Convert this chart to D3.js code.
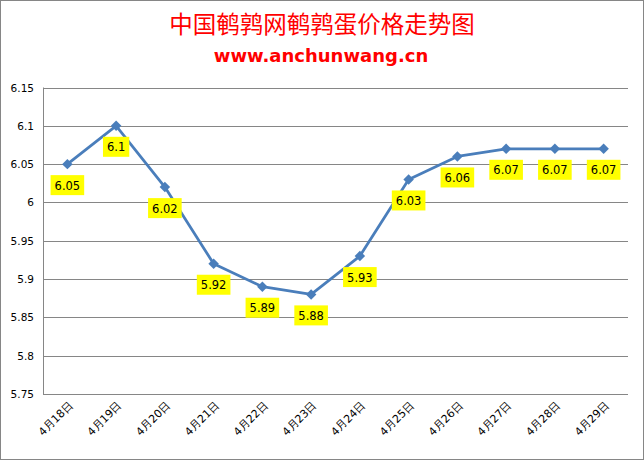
<!DOCTYPE html>
<html>
<head>
<meta charset="utf-8">
<script src="https://cdn.jsdelivr.net/npm/d3@7"></script>
<style>
  body { margin: 0; background: #fff; }
  text { font-family: "DejaVu Sans", sans-serif; }
</style>
</head>
<body>
<script>
const dates = ["4月18日", "4月19日", "4月20日", "4月21日", "4月22日", "4月23日",
  "4月24日", "4月25日", "4月26日", "4月27日", "4月28日", "4月29日"];
const prices = [6.05, 6.1, 6.02, 5.92, 5.89, 5.88, 5.93, 6.03, 6.06, 6.07, 6.07, 6.07];
const yTicks = [5.75, 5.8, 5.85, 5.9, 5.95, 6, 6.05, 6.1, 6.15];

const width = 644;
const height = 460;
const plot = { left: 43, right: 628, top: 87.5, bottom: 394 };

const svg = d3.select("body").append("svg")
  .attr("width", width)
  .attr("height", height);

// outer frame
svg.append("rect")
  .attr("x", 0.5).attr("y", 0.5)
  .attr("width", width - 1).attr("height", height - 1)
  .attr("fill", "#fff")
  .attr("stroke", "#868686");

svg.append("text")
  .attr("x", 322).attr("y", 33)
  .attr("text-anchor", "middle")
  .attr("fill", "#ff0000")
  .style("font-family", "'Noto Sans CJK SC', sans-serif")
  .style("font-size", "23.5px")
  .text("中国鹌鹑网鹌鹑蛋价格走势图");

svg.append("text")
  .attr("x", 321).attr("y", 62)
  .attr("text-anchor", "middle")
  .attr("fill", "#ff0000")
  .style("font-weight", "bold")
  .style("font-size", "18px")
  .text("www.anchunwang.cn");

const x = d3.scalePoint()
  .domain(dates)
  .range([plot.left, plot.right])
  .padding(0.5);

const y = d3.scaleLinear()
  .domain([5.75, 6.15])
  .range([plot.bottom, plot.top]);

// gridlines
svg.append("g")
  .selectAll("line")
  .data(yTicks)
  .join("line")
  .attr("x1", plot.left).attr("x2", plot.right)
  .attr("y1", (d) => Math.round(y(d)) + 0.5)
  .attr("y2", (d) => Math.round(y(d)) + 0.5)
  .attr("stroke", "#868686");

svg.append("line")
  .attr("x1", plot.left + 0.5).attr("x2", plot.left + 0.5)
  .attr("y1", plot.top).attr("y2", plot.bottom)
  .attr("stroke", "#868686");

// y tick labels
svg.append("g")
  .selectAll("text")
  .data(yTicks)
  .join("text")
  .attr("x", 34)
  .attr("y", (d) => y(d) + 4)
  .attr("text-anchor", "end")
  .style("font-size", "10.5px")
  .text((d) => d3.format("")(+d.toFixed(2)));

// x labels rotated
svg.append("g")
  .selectAll("text")
  .data(dates)
  .join("text")
  .attr("transform", (d) => `translate(${x(d) + 6},${406}) rotate(-45)`)
  .attr("text-anchor", "end")
  .style("font-size", "11px")
  .text((d) => d);

const line = d3.line()
  .x((d, i) => x(dates[i]))
  .y((d) => y(d));

svg.append("path")
  .datum(prices)
  .attr("d", line)
  .attr("fill", "none")
  .attr("stroke", "#4a7ebb")
  .attr("stroke-width", 2.75)
  .attr("stroke-linejoin", "round");

svg.append("g")
  .selectAll("path")
  .data(prices)
  .join("path")
  .attr("d", d3.symbol(d3.symbolDiamond2, 70))
  .attr("transform", (d, i) => `translate(${x(dates[i])},${y(d)})`)
  .attr("fill", "#4a7ebb");

// data labels with yellow boxes
const labels = svg.append("g")
  .selectAll("g")
  .data(prices)
  .join("g")
  .attr("transform", (d, i) => `translate(${x(dates[i])},${y(d) + 21})`);

labels.append("text")
  .attr("text-anchor", "middle")
  .attr("y", 4.5)
  .style("font-size", "11.5px")
  .text((d) => d);

labels.each(function () {
  const g = d3.select(this);
  const bb = g.select("text").node().getBBox();
  g.insert("rect", "text")
    .attr("x", bb.x - 4)
    .attr("y", -10)
    .attr("width", bb.width + 8)
    .attr("height", 20)
    .attr("fill", "#ffff00");
});
</script>
</body>
</html>
